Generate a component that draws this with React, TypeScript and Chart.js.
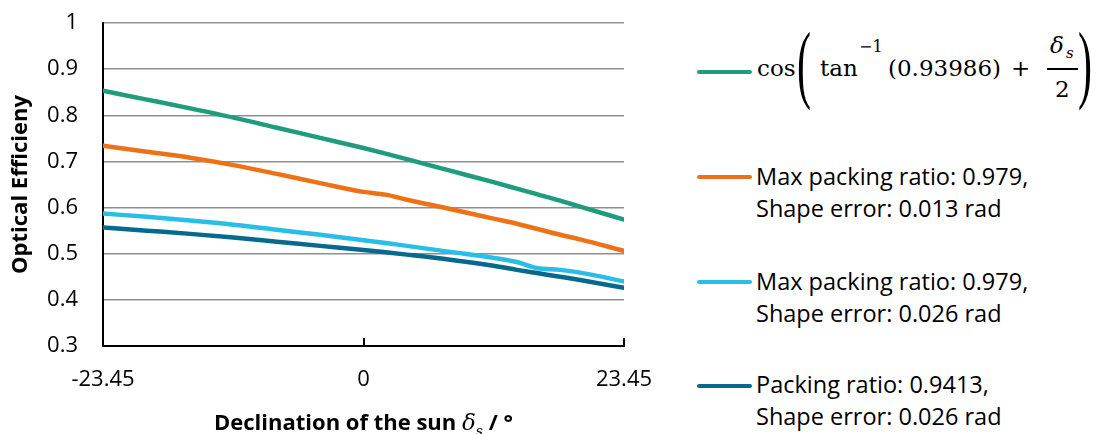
import React, { useEffect, useRef } from "react";
import { Chart, registerables } from "chart.js";

Chart.register(...registerables);

// ---- data ----
const declination = [-23.45, -19.5, -15.6, -11.7, -7.8, -3.9, 0, 2, 3.9, 7.8, 11.7, 13.8, 15.6, 17.7, 19.5, 23.45];
const cosModel = [0.853, 0.834, 0.815, 0.795, 0.773, 0.751, 0.729, 0.717, 0.705, 0.68, 0.655, 0.641, 0.629, 0.615, 0.602, 0.574];
const maxPack013 = [0.734, 0.721, 0.708, 0.692, 0.673, 0.653, 0.634, 0.628, 0.617, 0.597, 0.576, 0.565, 0.554, 0.541, 0.531, 0.506];
const maxPack026 = [0.587, 0.58, 0.572, 0.563, 0.552, 0.541, 0.529, 0.523, 0.517, 0.504, 0.491, 0.482, 0.469, 0.465, 0.459, 0.44];
const pack9413 = [0.557, 0.55, 0.543, 0.535, 0.526, 0.517, 0.508, 0.503, 0.498, 0.487, 0.474, 0.465, 0.458, 0.45, 0.443, 0.426];

const xTickValues = [-23.45, 0, 23.45];
const yMin = 0.3;
const yMax = 1;
const yStep = 0.1;

const seriesLabels = [
  "cos(tan⁻¹(0.93986) + δs/2)",
  "Max packing ratio: 0.979, Shape error: 0.013 rad",
  "Max packing ratio: 0.979, Shape error: 0.026 rad",
  "Packing ratio: 0.9413, Shape error: 0.026 rad",
];
const seriesColors = ["#1E9C7C", "#EE7115", "#28BEE6", "#06698D"];

const legendLines1 = ["Max packing ratio: 0.979,", "Max packing ratio: 0.979,", "Packing ratio: 0.9413,"];
const legendLines2 = ["Shape error: 0.013 rad", "Shape error: 0.026 rad", "Shape error: 0.026 rad"];

const SERIF = "'DejaVu Serif', serif";
const SANS = "'Open Sans', sans-serif";

function T(props: { left: number; top: number; size: number; children: any; style?: any }) {
  return (
    <span
      style={{
        position: "absolute",
        left: props.left,
        top: props.top,
        fontSize: props.size,
        lineHeight: 1,
        whiteSpace: "nowrap",
        fontFamily: SERIF,
        color: "#000",
        ...(props.style || {}),
      }}
    >
      {props.children}
    </span>
  );
}

export default function App() {
  const ref = useRef<HTMLCanvasElement>(null);

  useEffect(() => {
    document.body.style.margin = "0";
    const canvas = ref.current!;
    const seriesValues = [cosModel, maxPack013, maxPack026, pack9413];

    const innerTicks = {
      id: "innerTicks",
      afterDraw(chart: any) {
        const { ctx, chartArea } = chart;
        const x = chart.scales.x;
        ctx.save();
        ctx.strokeStyle = "#000";
        ctx.lineWidth = 2;
        xTickValues.forEach((v) => {
          const px = Math.round(x.getPixelForValue(v));
          ctx.beginPath();
          ctx.moveTo(px, chartArea.bottom);
          ctx.lineTo(px, chartArea.bottom - 8);
          ctx.stroke();
        });
        ctx.restore();
      },
    };

    const chart = new Chart(canvas, {
      type: "line",
      data: {
        datasets: seriesValues.map((vals, i) => ({
          label: seriesLabels[i],
          data: declination.map((d, j) => ({ x: d, y: vals[j] })),
          borderColor: seriesColors[i],
          backgroundColor: seriesColors[i],
          borderWidth: 4.5,
          pointRadius: 0,
          borderCapStyle: "round",
          borderJoinStyle: "round",
          cubicInterpolationMode: "monotone",
          fill: false,
        })),
      },
      options: {
        animation: false,
        responsive: false,
        devicePixelRatio: 1,
        layout: { padding: { left: 0, right: 56, top: 23, bottom: 0 } },
        plugins: { legend: { display: false }, tooltip: { enabled: false } },
        font: { family: SANS },
        scales: {
          x: {
            type: "linear",
            min: xTickValues[0],
            max: xTickValues[xTickValues.length - 1],
            afterBuildTicks: (s: any) => {
              s.ticks = xTickValues.map((v) => ({ value: v }));
            },
            afterFit: (s: any) => {
              s.height = 88;
              s.paddingLeft = 0;
              s.paddingRight = 0;
            },
            ticks: {
              autoSkip: false,
              maxRotation: 0,
              padding: 21,
              color: "#000",
              font: { family: SANS, size: 22 },
              callback: (v: any) => String(v),
            },
            grid: { drawOnChartArea: false, drawTicks: false },
            border: { display: true, color: "#000", width: 2 },
          },
          y: {
            min: yMin,
            max: yMax,
            afterFit: (s: any) => {
              s.width = 103;
              s.paddingTop = 0;
              s.paddingBottom = 0;
            },
            ticks: {
              stepSize: yStep,
              padding: 25,
              color: "#000",
              font: { family: SANS, size: 22 },
              callback: (v: any) => (Math.abs(v - 1) < 1e-9 ? "1" : Number(v).toFixed(1)),
            },
            grid: { color: "#8f8f8f", lineWidth: 1.5, drawTicks: false },
            border: { display: true, color: "#000", width: 2 },
            title: {
              display: true,
              text: "Optical Efficieny",
              color: "#000",
              font: { family: SANS, size: 22, weight: "bold" },
              padding: { top: 8, bottom: 0 },
            },
          },
        },
      } as any,
      plugins: [innerTicks],
    } as any);
    return () => chart.destroy();
  }, []);

  const lineYs = [72, 177, 282, 386];
  const textTops = [160, 265, 368];

  return (
    <div style={{ position: "absolute", left: 0, top: 0, width: 1099, height: 434, background: "#fff", overflow: "hidden" }}>
      <canvas ref={ref} width={680} height={434} style={{ position: "absolute", left: 0, top: 0, width: 680, height: 434 }} />

      {/* x axis title */}
      <div
        style={{
          position: "absolute",
          left: 103,
          width: 521,
          top: 406,
          textAlign: "center",
          fontFamily: SANS,
          fontWeight: "bold",
          fontSize: 22,
          lineHeight: "30px",
          color: "#000",
          whiteSpace: "nowrap",
        }}
      >
        Declination of the sun{" "}
        <span style={{ fontFamily: SERIF, fontStyle: "italic", fontWeight: "normal", fontSize: 23 }}>δ</span>
        <span style={{ fontFamily: SERIF, fontStyle: "italic", fontWeight: "normal", fontSize: 14, position: "relative", top: 6 }}>s</span>
        {" / °"}
      </div>

      {/* legend line markers */}
      {lineYs.map((y, i) => (
        <div
          key={i}
          style={{
            position: "absolute",
            left: 697,
            top: y - 2.25,
            width: 55,
            height: 4.5,
            borderRadius: 2.25,
            background: seriesColors[i],
          }}
        />
      ))}

      {/* formula legend entry */}
      <T left={757} top={56.5} size={23}>cos</T>
      <T left={797} top={19.5} size={42} style={{ fontFamily: "'Liberation Serif', serif", transform: "scaleY(2.05)", transformOrigin: "top left" }}>(</T>
      <T left={820} top={56.5} size={23}>tan</T>
      <T left={859} top={38.5} size={16}>−1</T>
      <T left={888} top={56.5} size={23}>(0.93986)</T>
      <T left={1011} top={56.5} size={23}>+</T>
      <T left={1050} top={33.5} size={23} style={{ fontStyle: "italic" }}>δ</T>
      <T left={1066} top={45.5} size={15} style={{ fontStyle: "italic" }}>s</T>
      <div style={{ position: "absolute", left: 1047, top: 68, width: 31, height: 1.5, background: "#000" }} />
      <T left={1055} top={77.5} size={23}>2</T>
      <T left={1078} top={19.5} size={42} style={{ fontFamily: "'Liberation Serif', serif", transform: "scaleY(2.05)", transformOrigin: "top left" }}>)</T>

      {/* text legend entries */}
      {textTops.map((t, i) => (
        <div
          key={i}
          style={{
            position: "absolute",
            left: 756,
            top: t,
            fontFamily: SANS,
            fontSize: 23.5,
            lineHeight: "32px",
            color: "#000",
            whiteSpace: "nowrap",
          }}
        >
          <div>{legendLines1[i]}</div>
          <div>{legendLines2[i]}</div>
        </div>
      ))}
    </div>
  );
}
